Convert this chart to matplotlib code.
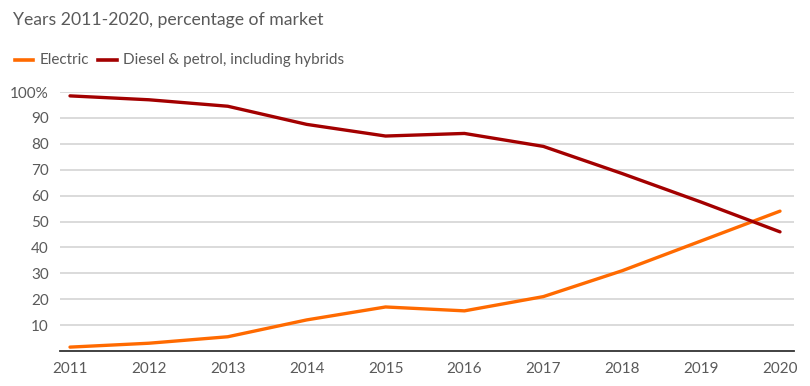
import matplotlib
matplotlib.use("Agg")
import matplotlib.pyplot as plt
from matplotlib.lines import Line2D

years = [2011, 2012, 2013, 2014, 2015, 2016, 2017, 2018, 2019, 2020]
electric = [1.5, 3, 5.5, 12, 17, 15.5, 21, 31, 42.5, 54]
diesel = [98.5, 97, 94.5, 87.5, 83, 84, 79, 68.5, 57.5, 46]
ytick_vals = [10, 20, 30, 40, 50, 60, 70, 80, 90, 100]
ytick_labels = ["10", "20", "30", "40", "50", "60", "70", "80", "90", "100%"]

ORANGE = "#ff6a00"
DARKRED = "#a30000"
TXT = "#5a5a5a"

plt.rcParams['font.family'] = ['Lato', 'DejaVu Sans']

fig = plt.figure(figsize=(8.1, 3.86), dpi=100)
W, H = 810, 386
ax = fig.add_axes([60 / W, 1 - 351 / H, (794 - 60) / W, (351 - 92) / H])

ax.plot(years, electric, color=ORANGE, lw=2.4, clip_on=False, zorder=3, solid_capstyle='round')
ax.plot(years, diesel, color=DARKRED, lw=2.4, clip_on=False, zorder=3, solid_capstyle='round')

x0 = years[0] - 10 / 78.9
x1 = years[-1] + 14 / 78.9
ax.set_xlim(x0, x1)
ax.set_ylim(0, 100)
ax.set_xticks(years)
ax.set_xticklabels([str(y) for y in years])
ax.set_yticks(ytick_vals)
ax.set_yticklabels(ytick_labels)
ax.grid(axis='y', color='#d4d4d4', lw=1.2)
ax.set_axisbelow(True)
for s in ['top', 'right', 'left']:
    ax.spines[s].set_visible(False)
ax.spines['bottom'].set_color('#333333')
ax.spines['bottom'].set_linewidth(1.3)
ax.tick_params(axis='both', length=0, labelsize=11, labelcolor=TXT)
ax.tick_params(axis='y', pad=8)
ax.tick_params(axis='x', pad=8)

fig.text(13 / W, 1 - 20 / H, "Years 2011-2020, percentage of market", fontsize=12.7,
         color=TXT, va='center', ha='left')

# legend
fig.add_artist(Line2D([15 / W, 33 / W], [1 - 60 / H] * 2, color=ORANGE, lw=2.6, transform=fig.transFigure))
fig.text(40 / W, 1 - 60 / H, "Electric", fontsize=11, color=TXT, va='center', ha='left')
fig.add_artist(Line2D([98 / W, 117 / W], [1 - 60 / H] * 2, color=DARKRED, lw=2.6, transform=fig.transFigure))
fig.text(123 / W, 1 - 60 / H, "Diesel & petrol, including hybrids", fontsize=11, color=TXT,
         va='center', ha='left')

fig.savefig("out.png", dpi=100, facecolor='white')
